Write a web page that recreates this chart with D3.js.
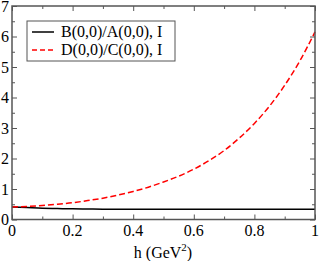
<!DOCTYPE html>
<html>
<head>
<meta charset="utf-8">
<script src="https://cdn.jsdelivr.net/npm/d3@7"></script>
<style>
  body { margin: 0; background: #fff; }
  text { font-family: "Liberation Serif", "Times New Roman", serif; }
</style>
</head>
<body>
<div id="vis"></div>
<script>
const width = 320;
const height = 261;

// data
const hValues = [0, 0.05, 0.1, 0.15, 0.2, 0.25, 0.3, 0.35, 0.4, 0.45, 0.5,
                 0.55, 0.6, 0.65, 0.7, 0.75, 0.8, 0.85, 0.9, 0.95, 1.0];
const ratioBA = [0.41, 0.39, 0.37, 0.36, 0.35, 0.345, 0.34, 0.34, 0.34, 0.34, 0.34,
                 0.34, 0.34, 0.34, 0.34, 0.34, 0.34, 0.34, 0.34, 0.34, 0.34];
const ratioDC = [0.41, 0.43, 0.46, 0.5, 0.55, 0.62, 0.7, 0.8, 0.92, 1.06, 1.23,
                 1.42, 1.65, 1.93, 2.26, 2.67, 3.15, 3.72, 4.4, 5.2, 6.15];
const xTicks = [0, 0.2, 0.4, 0.6, 0.8, 1];
const xTickLabels = ['0', '0.2', '0.4', '0.6', '0.8', '1'];
const yTicks = [0, 1, 2, 3, 4, 5, 6, 7];
const seriesNames = ['B(0,0)/A(0,0), I', 'D(0,0)/C(0,0), I'];

const margin = {left: 12, right: 5, top: 6, bottom: 41.5};

let vis = d3.select('#vis')
            .append('svg')
            .attr('width', width)
            .attr('height', height);

const x = d3.scaleLinear().domain([0, 1]).range([margin.left, width - margin.right]);
const y = d3.scaleLinear().domain([0, 7]).range([height - margin.bottom, margin.top]);

const frameColor = '#555';

// ticks on all four sides, pointing inward
const xMinor = d3.range(0.1, 1, 0.2);
const yMinor = d3.range(0.5, 7, 1);

function addAxis(axis, transform) {
    const g = vis.append('g').attr('transform', transform).call(axis);
    g.select('.domain').remove();
    g.selectAll('line').attr('stroke', frameColor).attr('stroke-width', 1);
    g.selectAll('text').remove();
    return g;
}

const yBottom = y(0), yTop = y(7);
addAxis(d3.axisTop(x).tickValues(xTicks).tickSize(5), `translate(0,${yBottom})`);
addAxis(d3.axisTop(x).tickValues(xMinor).tickSize(3), `translate(0,${yBottom})`);
addAxis(d3.axisBottom(x).tickValues(xTicks).tickSize(5), `translate(0,${yTop})`);
addAxis(d3.axisBottom(x).tickValues(xMinor).tickSize(3), `translate(0,${yTop})`);
addAxis(d3.axisRight(y).tickValues(yTicks).tickSize(5), `translate(${x(0)},0)`);
addAxis(d3.axisRight(y).tickValues(yMinor).tickSize(3), `translate(${x(0)},0)`);
addAxis(d3.axisLeft(y).tickValues(yTicks).tickSize(5), `translate(${x(1)},0)`);
addAxis(d3.axisLeft(y).tickValues(yMinor).tickSize(3), `translate(${x(1)},0)`);

// tick labels
vis.append('g')
   .selectAll('text')
   .data(xTicks)
   .enter()
   .append('text')
   .attr('x', d => x(d))
   .attr('y', y(0) + 16)
   .attr('text-anchor', 'middle')
   .attr('font-size', 16)
   .text((d, i) => xTickLabels[i]);

vis.append('g')
   .selectAll('text')
   .data(yTicks)
   .enter()
   .append('text')
   .attr('x', x(0) - 3)
   .attr('y', d => y(d) + 5.5)
   .attr('text-anchor', 'end')
   .attr('font-size', 16)
   .text(d => d);

// axis title
const xt = vis.append('text')
   .attr('x', 163)
   .attr('y', 258)
   .attr('text-anchor', 'middle')
   .attr('font-size', 16);
xt.append('tspan').text('h (GeV');
xt.append('tspan').attr('font-size', 11).attr('dy', -7).text('2');
xt.append('tspan').attr('dy', 7).text(')');

// curves
const line = d3.line()
               .x((d, i) => x(hValues[i]))
               .y(d => y(d))
               .curve(d3.curveMonotoneX);

vis.append('path')
   .datum(ratioBA)
   .attr('fill', 'none')
   .attr('stroke', '#000')
   .attr('stroke-width', 1.5)
   .attr('d', line);

vis.append('path')
   .datum(ratioDC)
   .attr('fill', 'none')
   .attr('stroke', '#f00')
   .attr('stroke-width', 1.5)
   .attr('stroke-dasharray', '6,3')
   .attr('d', line);

// frame
vis.append('rect')
   .attr('x', x(0))
   .attr('y', y(7))
   .attr('width', x(1) - x(0))
   .attr('height', y(0) - y(7))
   .attr('fill', 'none')
   .attr('stroke', frameColor)
   .attr('stroke-width', 1.5);

// legend
const legend = vis.append('g');
legend.append('rect')
      .attr('x', 27)
      .attr('y', 21)
      .attr('width', 148)
      .attr('height', 40)
      .attr('fill', '#fff')
      .attr('stroke', frameColor)
      .attr('stroke-width', 1);

const legendRows = legend.selectAll('g')
      .data(seriesNames)
      .enter()
      .append('g')
      .attr('transform', (d, i) => `translate(0,${32 + i * 18})`);

legendRows.append('line')
      .attr('x1', 32)
      .attr('x2', 54)
      .attr('stroke', (d, i) => i === 0 ? '#000' : '#f00')
      .attr('stroke-width', 1.5)
      .attr('stroke-dasharray', (d, i) => i === 0 ? null : '5,3');

legendRows.append('text')
      .attr('x', 61)
      .attr('y', 5)
      .attr('font-size', 16)
      .text(d => d);
</script>
</body>
</html>
